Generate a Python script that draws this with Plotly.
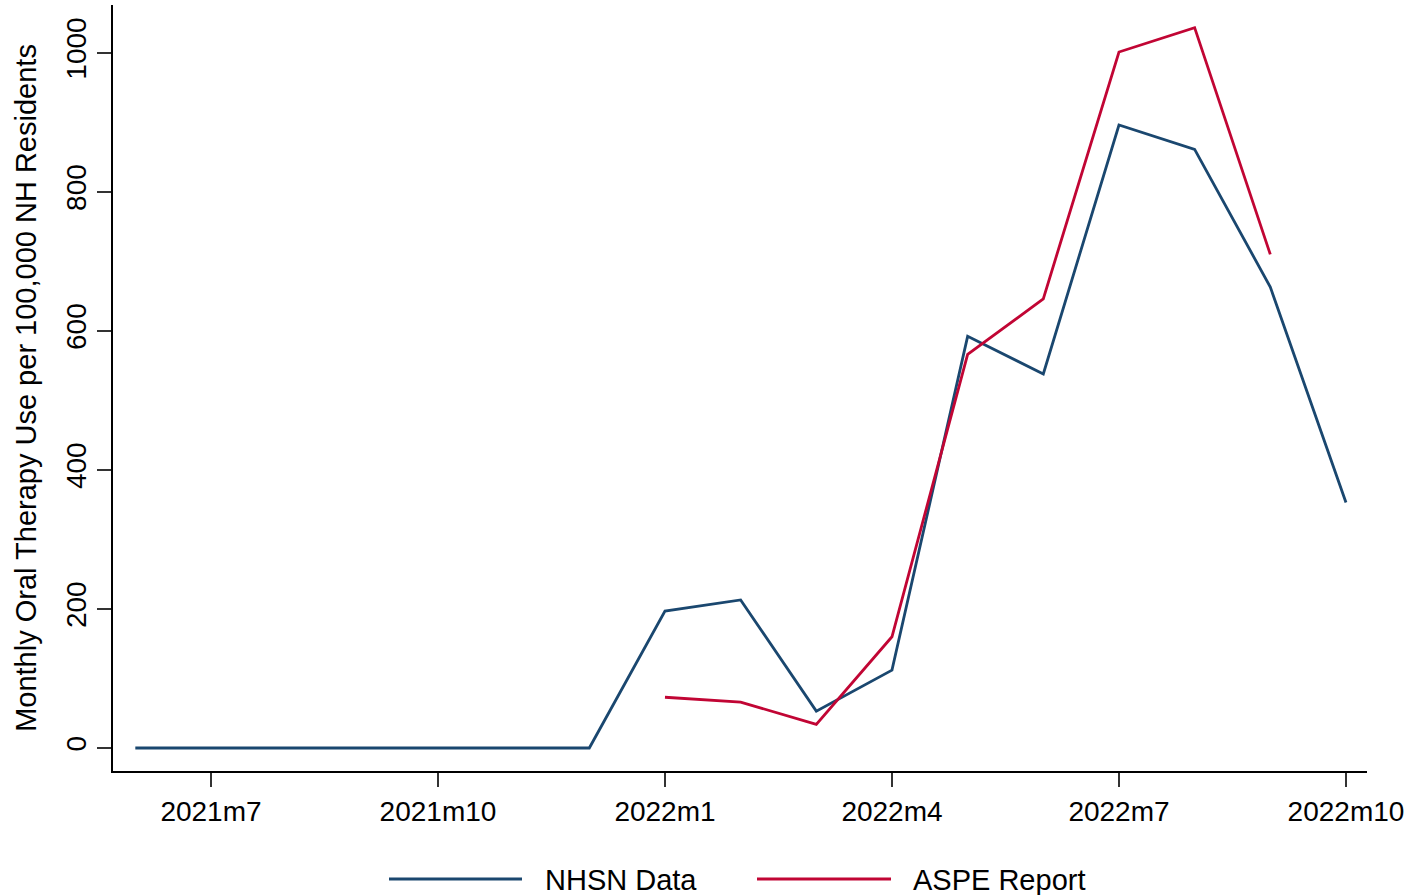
import plotly.graph_objects as go

# Monthly oral therapy use per 100,000 nursing-home residents
months = ["2021m6", "2021m7", "2021m8", "2021m9", "2021m10", "2021m11", "2021m12",
          "2022m1", "2022m2", "2022m3", "2022m4", "2022m5", "2022m6", "2022m7",
          "2022m8", "2022m9", "2022m10"]
nhsn_values = [0, 0, 0, 0, 0, 0, 0, 197, 213, 53, 112, 592, 538, 896, 861, 663, 353]

aspe_months = ["2022m1", "2022m2", "2022m3", "2022m4", "2022m5", "2022m6",
               "2022m7", "2022m8", "2022m9"]
aspe_values = [73, 66, 34, 160, 566, 646, 1001, 1036, 710]

x_ticks = ["2021m7", "2021m10", "2022m1", "2022m4", "2022m7", "2022m10"]
y_ticks = [0, 200, 400, 600, 800, 1000]

NAVY = "#1a476f"
CRANBERRY = "#c10534"
FONT = "Liberation Sans, Arial, sans-serif"

fig = go.Figure()
fig.add_trace(go.Scatter(x=months, y=nhsn_values, mode="lines", name="NHSN Data",
                         line=dict(color=NAVY, width=2.8), showlegend=False))
fig.add_trace(go.Scatter(x=aspe_months, y=aspe_values, mode="lines", name="ASPE Report",
                         line=dict(color=CRANBERRY, width=2.8), showlegend=False))

# plot-area geometry in pixels, used to place the legend below the axis
W, H = 1413, 895
L, R, T, B = 113, 46, 5, 124
pw, ph = W - L - R, H - T - B


def px_x(p):
    return (p - L) / pw


def px_y(p):
    return (H - B - p) / ph


legend_items = [("NHSN Data", NAVY, 389, 522, 543),
                ("ASPE Report", CRANBERRY, 757, 891, 911)]
for label, color, x0, x1, xt in legend_items:
    fig.add_shape(type="line", xref="paper", yref="paper",
                  x0=px_x(x0), x1=px_x(x1), y0=px_y(879), y1=px_y(879),
                  line=dict(color=color, width=2.8))
    fig.add_annotation(text=label, xref="paper", yref="paper",
                       x=px_x(xt), y=px_y(880), xanchor="left", yanchor="middle",
                       showarrow=False, font=dict(family=FONT, size=29, color="#000"))

fig.update_xaxes(
    type="category",
    range=[-0.295, 16.278],
    tickmode="array", tickvals=x_ticks, ticktext=x_ticks,
    showline=True, linecolor="#000", linewidth=2,
    ticks="outside", ticklen=14, tickwidth=2, tickcolor="#333",
    showgrid=False, zeroline=False,
    tickfont=dict(family=FONT, size=28, color="#000"),
)
fig.update_yaxes(
    range=[-33.1, 1068.6],
    tickmode="array", tickvals=y_ticks,
    tickangle=-90,
    showline=True, linecolor="#000", linewidth=2,
    ticks="outside", ticklen=14, tickwidth=2, tickcolor="#333",
    showgrid=False, zeroline=False,
    tickfont=dict(family=FONT, size=28, color="#000"),
    title=dict(text="Monthly Oral Therapy Use per 100,000 NH Residents",
               font=dict(family=FONT, size=29, color="#000"), standoff=16),
)

fig.update_layout(
    width=W, height=H,
    margin=dict(l=L, r=R, t=T, b=B),
    paper_bgcolor="#fff", plot_bgcolor="#fff",
    font=dict(family=FONT),
)

fig.write_html("out.html")
